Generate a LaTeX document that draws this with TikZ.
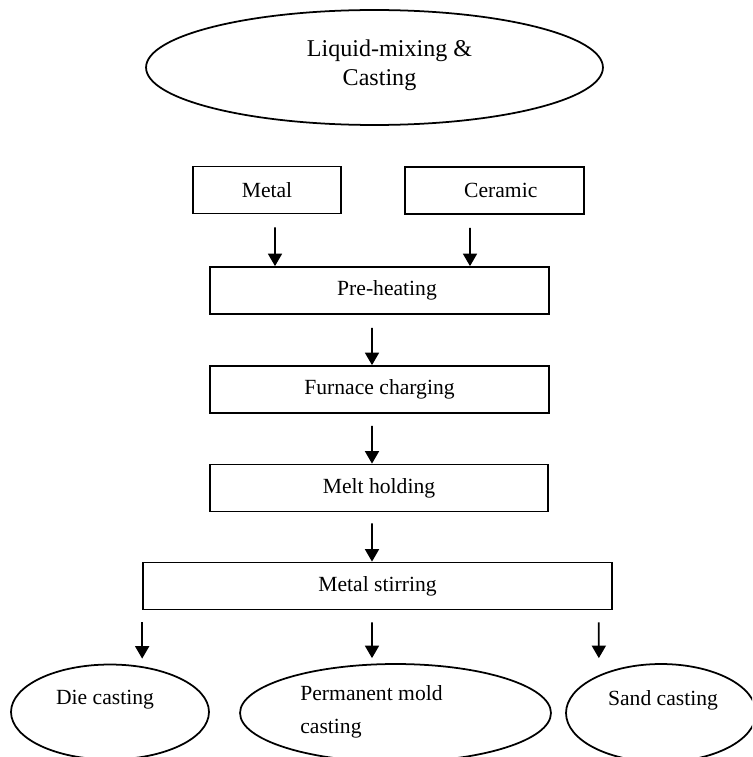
\documentclass[tikz,border=0pt]{standalone}
\usepackage{fontspec}
\setmainfont{Liberation Serif}
\usetikzlibrary{shapes.geometric,arrows.meta}

\begin{document}
\begin{tikzpicture}[x=0.02cm, y=-0.02cm,
	every node/.style={font=\fontsize{12.3}{14}\selectfont},
	stepbox/.style={rectangle, draw, line width=1pt, minimum height=0.94cm, inner sep=0pt},
	endoval/.style={ellipse, draw, line width=1pt, inner sep=0pt},
	arr/.style={-{Triangle[length=0.25cm,width=0.28cm]}, line width=1pt}]
	
	\clip (0,0) rectangle (752,757);
	
	%Nodes
	\node (Title) at (374.5,67.5) [endoval, minimum width=9.14cm, minimum height=2.3cm]{};
	\node (TitleText) at ([shift={(5,-2)}]Title.center) [align=center, 
	font=\fontsize{13.7}{16.4}\selectfont]{\hspace*{0.4cm}Liquid-mixing \&\\Casting};
	\node (Metal) at (267,190) [stepbox, minimum width=2.96cm]{Metal};
	\node (Ceramic) at (494.5,190.5) [stepbox, minimum width=3.58cm]{\hspace*{0.25cm}Ceramic};
	\node (PreHeat) at (379.5,290.5) [stepbox, minimum width=6.78cm]{\hspace*{0.3cm}Pre-heating};
	\node (Furnace) at (379.5,389.5) [stepbox, minimum width=6.78cm]{Furnace charging};
	\node (Melt) at (379,488) [stepbox, minimum width=6.76cm]{Melt holding};
	\node (Stirring) at (377.5,586) [stepbox, minimum width=9.38cm]{Metal stirring};
	
	%Castings
	\node (Die) at (110,712) [endoval, minimum width=3.96cm, minimum height=1.9cm]{};
	\node (Permanent) at (395.5,713) [endoval, minimum width=6.22cm, minimum height=1.96cm]{};
	\node (Sand) at (661,713) [endoval, minimum width=3.8cm, minimum height=1.96cm]{};
	\node (DieText) at ([shift={(-5,-12)}]Die.center) {Die casting};
	\node (PermanentText) at ([shift={(-24,-1)}]Permanent.center) [align=left, 
	font=\fontsize{12.3}{18.7}\selectfont]{Permanent mold\\casting};
	\node (SandText) at ([shift={(2,-13)}]Sand.center) {Sand casting};
	
	%Links
	\draw[arr] ([shift={(8,13)}]Metal.south) -- ([xshift=0.16cm]Metal.south |- PreHeat.north);
	\draw[arr] ([shift={(-24.5,13)}]Ceramic.south) -- ([xshift=-0.49cm]Ceramic.south |- PreHeat.north);
	\draw[arr] ([shift={(-7.5,13)}]PreHeat.south) -- ([xshift=-0.15cm]PreHeat.south |- Furnace.north);
	\draw[arr] ([shift={(-7.5,12)}]Furnace.south) -- ([xshift=-0.15cm]Furnace.south |- Melt.north);
	\draw[arr] ([shift={(-7,11)}]Melt.south) -- ([xshift=-0.14cm]Melt.south |- Stirring.north);
	\draw[arr] ([shift={(0,12)}]Stirring.south west) -- ([yshift=0.1cm]Stirring.south west |- Die.north);
	\draw[arr] ([shift={(-5.5,12)}]Stirring.south) -- ([shift={(-0.11cm,0.1cm)}]Stirring.south |- Permanent.north);
	\draw[arr] ([shift={(-14,12)}]Stirring.south east) -- ([shift={(-0.28cm,0.1cm)}]Stirring.south east |- Sand.north);
	
\end{tikzpicture}
\end{document}
